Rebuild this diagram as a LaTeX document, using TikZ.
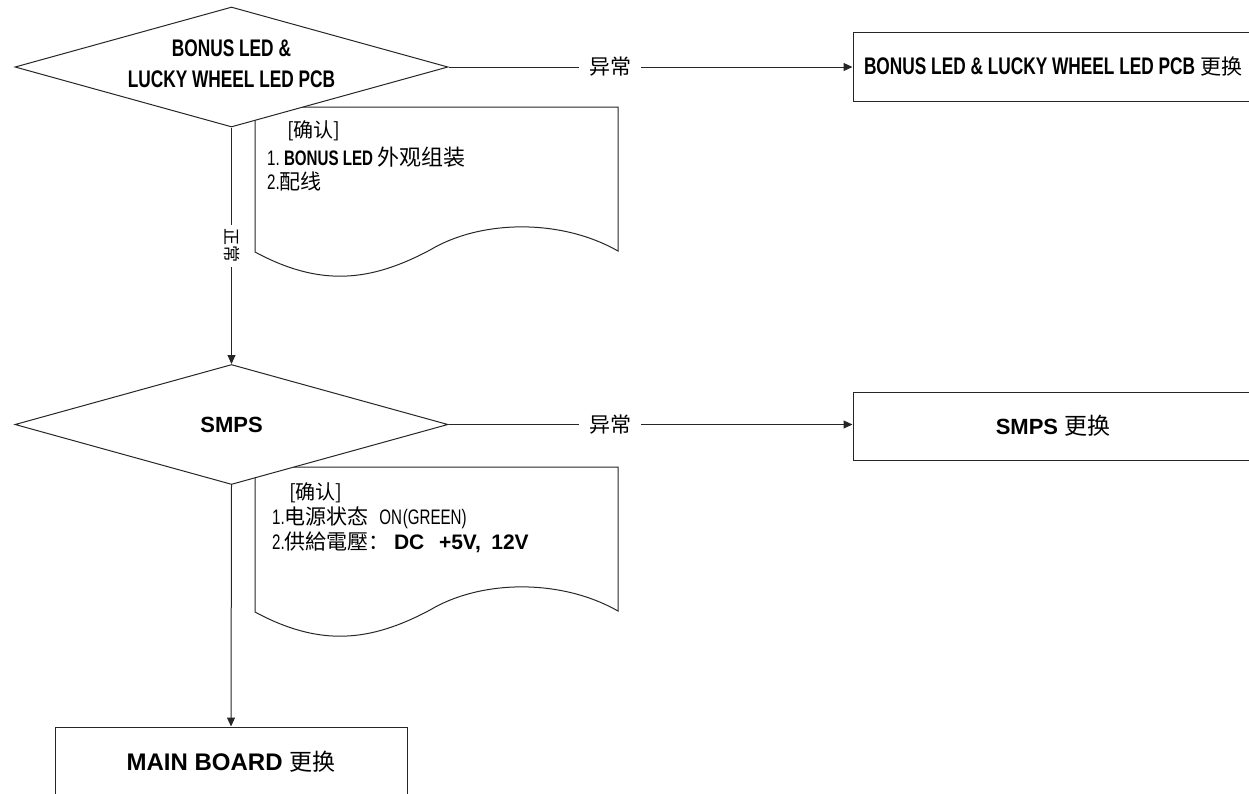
\documentclass[tikz,border=0pt]{standalone}
\usepackage{fontspec}
\setmainfont{Liberation Sans}
\newfontfamily\condf[FakeStretch=0.72]{Liberation Sans}
\newfontfamily\cjkf{Noto Sans CJK SC}
\usetikzlibrary{shapes.geometric,arrows.meta}
\begin{document}
\begin{tikzpicture}[x=1pt,y=-1pt,
  line/.style={draw=black!85,line width=1pt},
  arr/.style={line,-{Triangle[length=9pt,width=8pt]}},
  decision/.style={diamond,line,fill=white,inner sep=0pt,minimum width=433pt,minimum height=120pt},
  endbox/.style={rectangle,line,inner sep=0pt,align=center},
  lbl/.style={fill=white,inner xsep=10pt,inner ysep=2pt,font=\cjkf\fontsize{21}{21}\selectfont},
  vlbl/.style={fill=white,rotate=-90,inner xsep=4pt,inner ysep=1pt,font=\cjkf\fontsize{17}{17}\selectfont},
  doctext/.style={anchor=base west,inner sep=0pt,font=\condf\fontsize{21}{21}\selectfont},
  bracket/.style={anchor=base west,inner sep=0pt,font=\cjkf\fontsize{20}{20}\selectfont}
]
\useasboundingbox (0,0) rectangle (1249,793);
\clip (0,0) rectangle (1249,793);

% document shapes
\draw[line] (255,107) -- (618,107) -- (618,251)
  .. controls (560,218) and (480,220) .. (430,250)
  .. controls (370,282) and (320,287) .. (255,252) -- cycle;
\draw[line] (255,467) -- (618,467) -- (618,611)
  .. controls (560,578) and (480,580) .. (430,610)
  .. controls (370,642) and (320,647) .. (255,612) -- cycle;

% decisions
\node[decision] (d1) at (231.5,67) {};
\node[align=center,inner sep=0pt,font=\condf\bfseries\fontsize{24}{31}\selectfont] (d1t) at (231.5,63.5) {BONUS LED \&\\LUCKY WHEEL LED PCB};
\node[decision] (d2) at (231.5,424.5) {};
\node[inner sep=0pt,font=\bfseries\fontsize{22}{26}\selectfont] (d2t) at (231.5,424.5) {SMPS};

% end boxes
\node[endbox,minimum width=400pt,minimum height=69pt,font=\condf\bfseries\fontsize{24}{26}\selectfont] (b1) at (1053,66.5) {BONUS LED \& LUCKY WHEEL LED PCB {\mdseries\cjkf\fontsize{21}{26}\selectfont 更换}};
\node[endbox,minimum width=400pt,minimum height=68pt,font=\bfseries\fontsize{22}{26}\selectfont] (b2) at (1053,426) {SMPS {\mdseries\cjkf\fontsize{23}{26}\selectfont 更换}};
\node[endbox,minimum width=352pt,minimum height=70pt,font=\bfseries\fontsize{24}{26}\selectfont] (b3) at (231,762) {MAIN BOARD {\mdseries\cjkf\fontsize{23}{26}\selectfont 更换}};

% connectors
\draw[arr] (d1.east) -- node[lbl,pos=0.4]{异常} (d1.east -| b1.west);
\draw[arr] (d2.east) -- node[lbl,pos=0.4]{异常} (d2.east -| b2.west);
\draw[arr] (d1.south) -- node[vlbl]{正常} (d2.north);
\draw[arr] (d2.south) -- (b3.north);

% document texts
\node[bracket] (c1) at (287,137) {[确认]};
\node[doctext] (c1a) at (267,165) {1.\ {\bfseries BONUS LED} {\cjkf\fontsize{22}{22}\selectfont 外观组装}};
\node[doctext] (c1b) at (267,189) {2.{\cjkf\fontsize{21}{21}\selectfont 配线}};

\node[bracket] (c2) at (289,499) {[确认]};
\node[doctext] (c2a) at (272,524) {1.{\cjkf\fontsize{21}{21}\selectfont 电源状态}\hspace{0.5em}ON\hspace{0.04em}(GREEN)};
\node[doctext] (c2b) at (272,549) {2.{\cjkf\fontsize{21}{21}\selectfont 供給電壓：}\hspace{0.2em}{\normalfont\bfseries\fontsize{21}{21}\selectfont DC\hspace{0.7em}+5V,\hspace{0.5em}12V}};
\end{tikzpicture}
\end{document}
